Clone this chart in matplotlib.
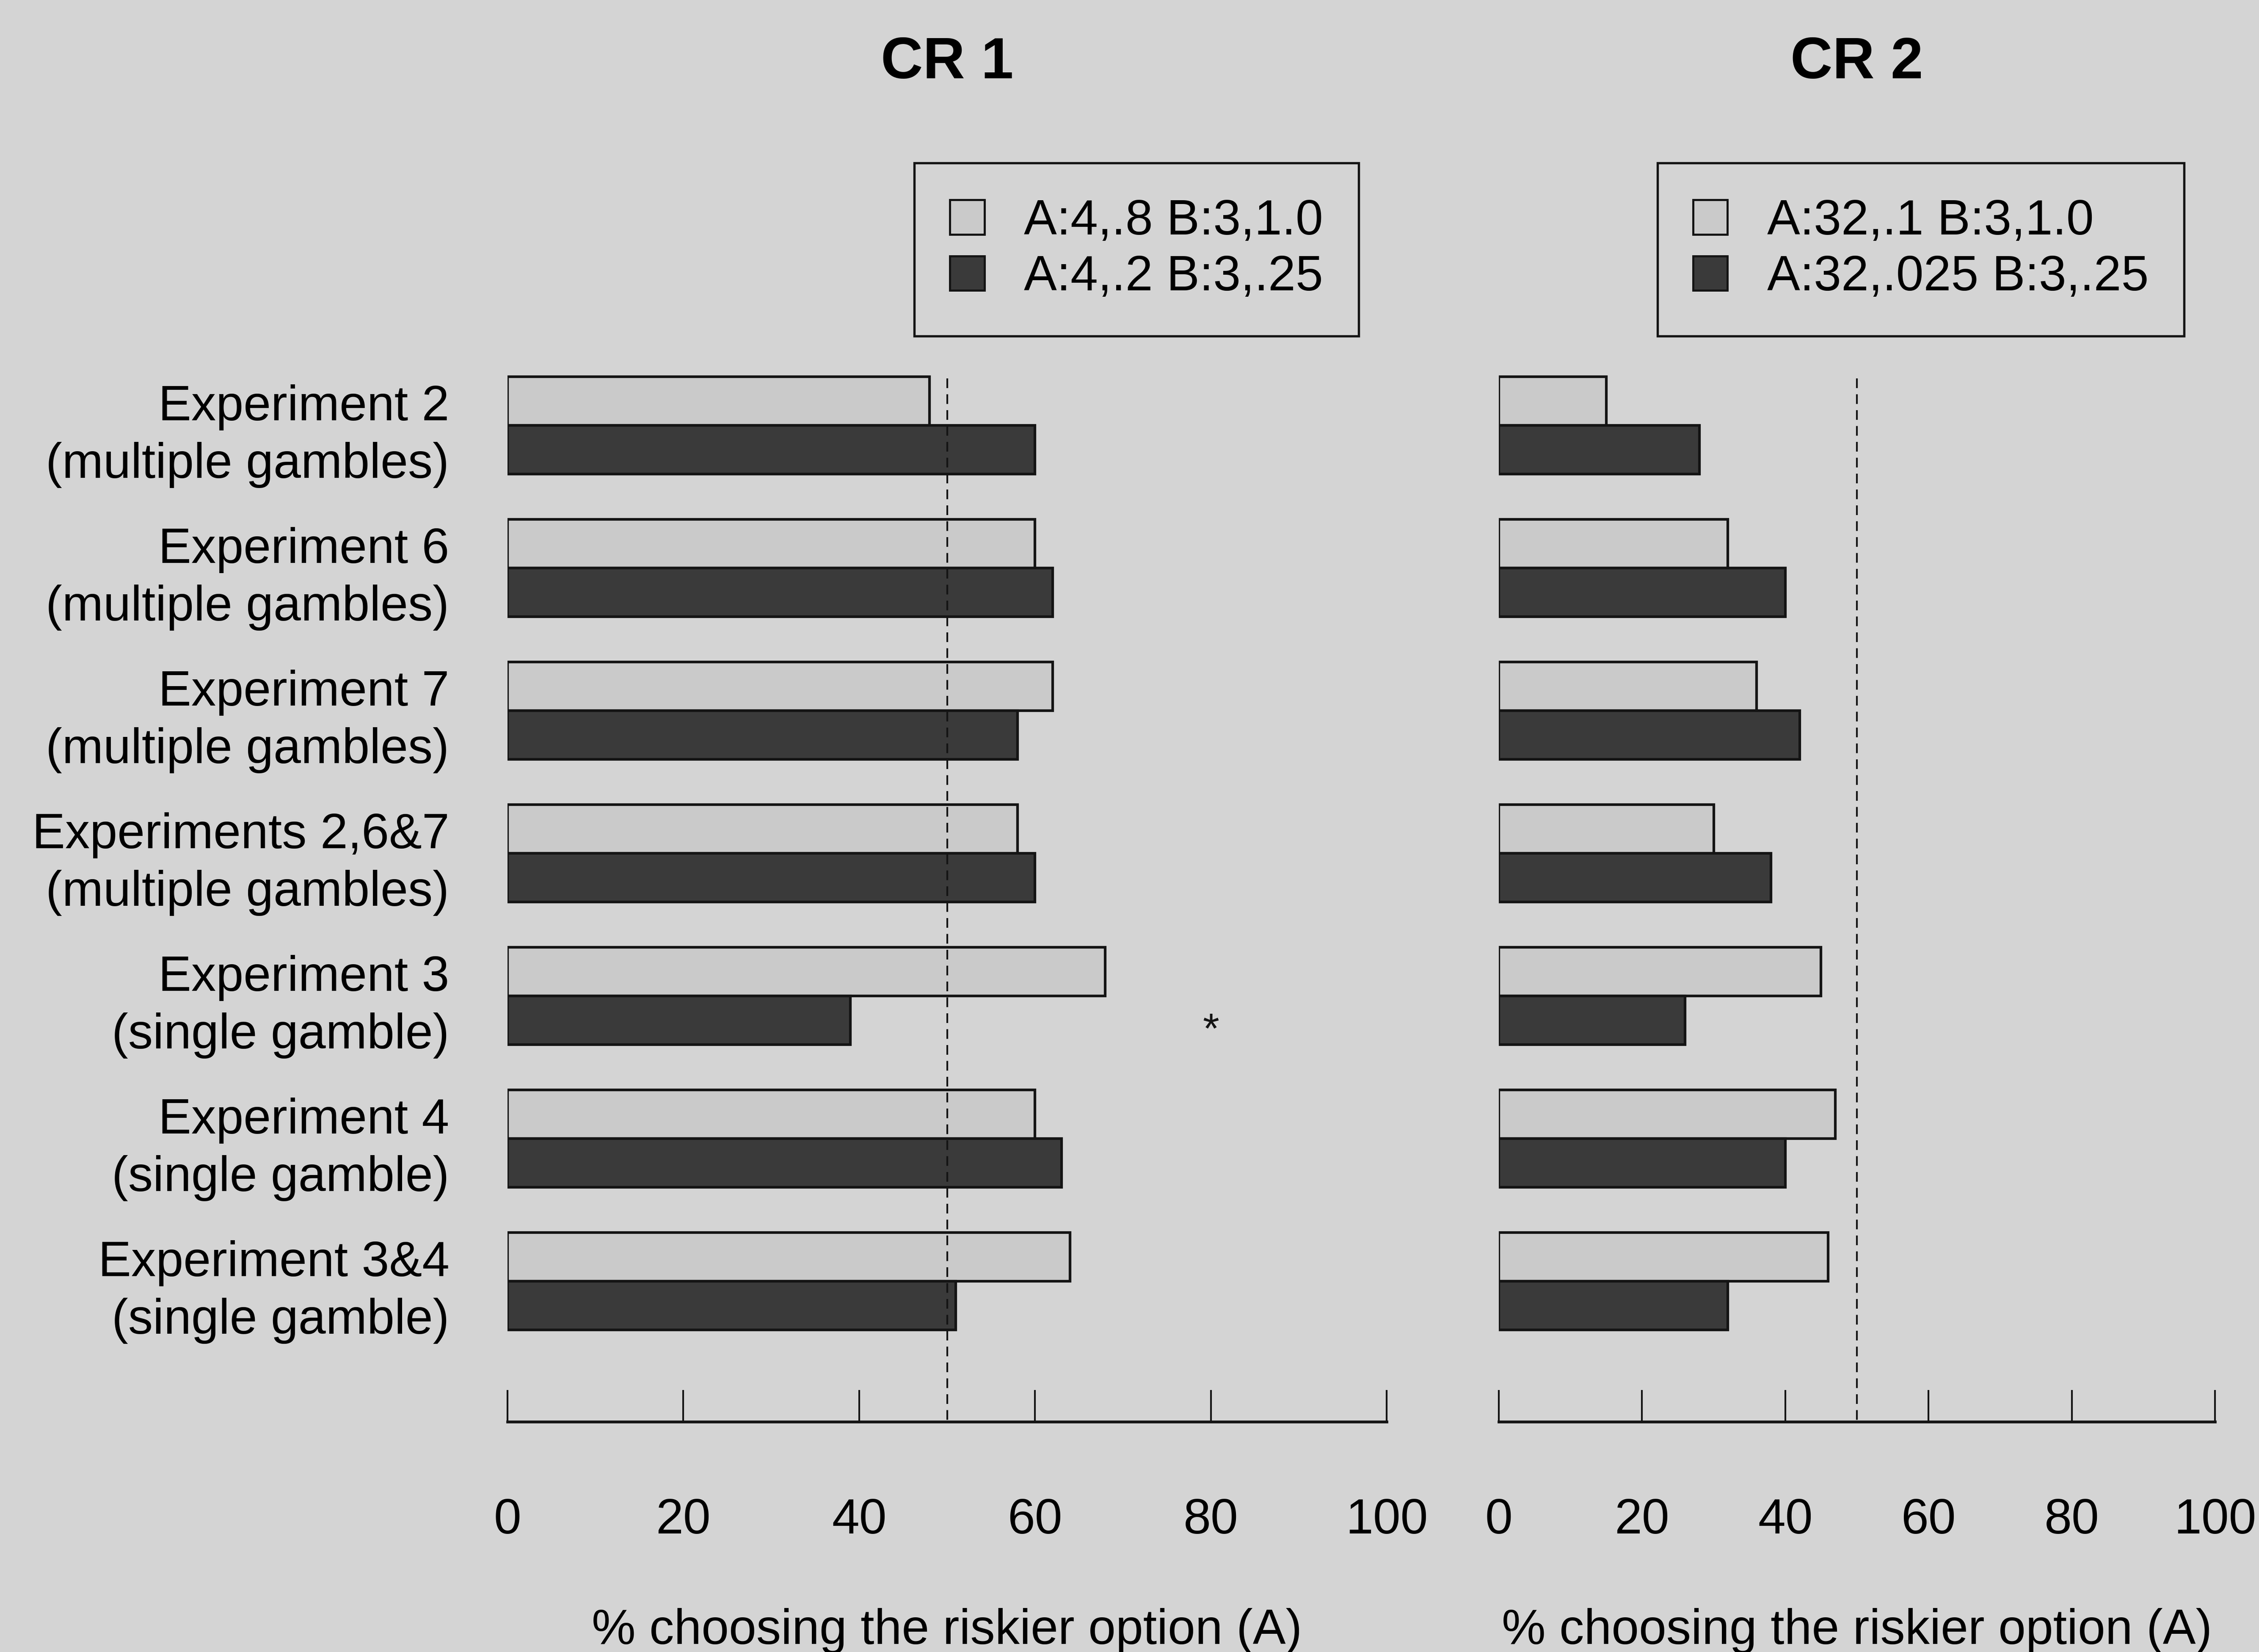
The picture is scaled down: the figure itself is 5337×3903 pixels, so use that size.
import matplotlib
matplotlib.use("Agg")
import matplotlib.pyplot as plt
from matplotlib.patches import Patch
import numpy as np

plt.rcParams['font.family'] = ['Liberation Sans', 'DejaVu Sans']

# ---- data -------------------------------------------------------------
experiments = [
    "Experiment 2\n(multiple gambles)",
    "Experiment 6\n(multiple gambles)",
    "Experiment 7\n(multiple gambles)",
    "Experiments 2,6&7\n(multiple gambles)",
    "Experiment 3\n(single gamble)",
    "Experiment 4\n(single gamble)",
    "Experiment 3&4\n(single gamble)",
]

cr1_labels = ["A:4,.8 B:3,1.0", "A:4,.2 B:3,.25"]
cr1_high = [48, 60, 62, 58, 68, 60, 64]   # light bars
cr1_low = [60, 62, 58, 60, 39, 63, 51]    # dark bars

cr2_labels = ["A:32,.1 B:3,1.0", "A:32,.025 B:3,.25"]
cr2_high = [15, 32, 36, 30, 45, 47, 46]
cr2_low = [28, 40, 42, 38, 26, 40, 32]

x_ticks = [0, 20, 40, 60, 80, 100]
chance_level = 50
x_label = "% choosing the riskier option (A)"
titles = ["CR 1", "CR 2"]

# significance marker: (panel, row, series, x)
markers = [(0, 4, 1, 80)]

# ---- styling ----------------------------------------------------------
BG = "#d4d4d4"
LIGHT = "#cacaca"
DARK = "#3a3a3a"
EDGE = "#141414"
FS = 28

W, H = 5337, 3903
fig = plt.figure(figsize=(W / 300, H / 300), dpi=300, facecolor=BG)

ax_bottom = 1 - 3359 / H
ax_top = 1 - 880 / H
ax_h = ax_top - ax_bottom
ax1 = fig.add_axes([1199 / W, ax_bottom, (3276 - 1199) / W, ax_h])
ax2 = fig.add_axes([3541 / W, ax_bottom, (5233 - 3541) / W, ax_h])

pos = np.arange(len(experiments))
bh = 0.34
ylim = (6.985, -0.371)

panels = [
    (ax1, cr1_high, cr1_low, cr1_labels, 3210),
    (ax2, cr2_high, cr2_low, cr2_labels, 5160),
]

for i, (ax, hi, lo, labels, leg_right) in enumerate(panels):
    ax.set_facecolor(BG)
    ax.barh(pos - bh / 2, hi, height=bh, color=LIGHT, edgecolor=EDGE, linewidth=1.5)
    ax.barh(pos + bh / 2, lo, height=bh, color=DARK, edgecolor=EDGE, linewidth=1.5)
    ax.plot([chance_level, chance_level], [-bh * 0.97, ylim[0]], color=EDGE,
            linewidth=1.0, dashes=(5.5, 3.5), clip_on=False)

    ax.set_xlim(0, 100)
    ax.set_ylim(*ylim)
    ax.set_xticks(x_ticks)
    ax.set_xticklabels([str(t) for t in x_ticks], fontsize=FS)
    for s in ("top", "right", "left"):
        ax.spines[s].set_visible(False)
    ax.spines["bottom"].set_linewidth(1.6)
    ax.spines["bottom"].set_color(EDGE)
    ax.tick_params(axis="x", direction="in", length=18, width=1.0,
                   color=EDGE, pad=43)

    if i == 0:
        ax.set_yticks(pos)
        ax.set_yticklabels(experiments, fontsize=FS, linespacing=1.32)
        ax.tick_params(axis="y", length=0, pad=33)
    else:
        ax.set_yticks([])

    ax.set_xlabel(x_label, fontsize=FS, va="center")
    ax.xaxis.set_label_coords(0.5, -(3853 - 3359) / (3359 - 880))

    ax.set_title(titles[i], fontsize=33, fontweight="bold", pad=0,
                 y=(3359 - 150) / (3359 - 880), va="center")

    handles = [Patch(facecolor=LIGHT, edgecolor=EDGE, linewidth=1.2),
               Patch(facecolor=DARK, edgecolor=EDGE, linewidth=1.2)]
    leg = fig.legend(handles, labels, loc="upper right",
                     bbox_to_anchor=(leg_right / W, 1 - 385 / H),
                     bbox_transform=fig.transFigure, fontsize=FS,
                     frameon=True, fancybox=False, framealpha=1,
                     facecolor=BG, edgecolor=EDGE, handlelength=0.7,
                     handleheight=0.7, handletextpad=0.8, borderpad=0.72,
                     labelspacing=0.2, borderaxespad=0)
    leg.get_frame().set_linewidth(1.3)

for panel, row, series, xv in markers:
    ax = [ax1, ax2][panel]
    yv = pos[row] + (bh / 2 if series == 1 else -bh / 2)
    ax.text(xv, yv + 0.16, "*", fontsize=24, ha="center", va="baseline",
            color=EDGE)

fig.savefig("out.png", dpi=300, facecolor=BG)
